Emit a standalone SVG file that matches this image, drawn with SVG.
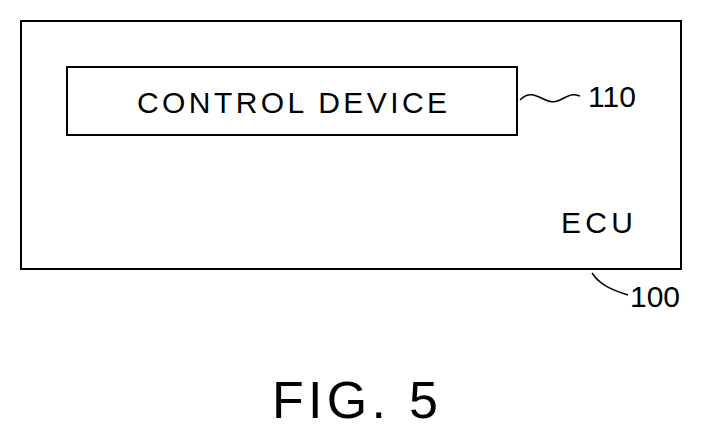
<svg xmlns="http://www.w3.org/2000/svg" width="717" height="440" viewBox="0 0 717 440">
<style>
.b{fill:#fff;stroke:#000;stroke-width:2}
.t{font-family:"Liberation Sans",Arial,sans-serif;fill:#000}
.l{fill:none;stroke:#000;stroke-width:1.5}
</style>
<rect width="717" height="440" fill="#fff"/>
<g id="ecu"><rect class="b" x="21" y="21" width="660" height="248"/><text class="t" x="561" y="233" font-size="30" textLength="72">ECU</text></g>
<g id="control"><rect class="b" x="67" y="67" width="450" height="68"/><text class="t" x="137" y="113" font-size="30" textLength="310">CONTROL DEVICE</text></g>
<g id="connectors">
<path class="l" d="M520,100 C535,85 545,108 560,100 S575,95 580,96"/>
<path class="l" d="M592,273 C600,285 612,290 628,295"/>
</g>
<text class="t" x="588" y="107" font-size="30">110</text>
<text class="t" x="630" y="307" font-size="30">100</text>
<text class="t" x="272" y="418" font-size="52" textLength="166">FIG. 5</text>
</svg>
